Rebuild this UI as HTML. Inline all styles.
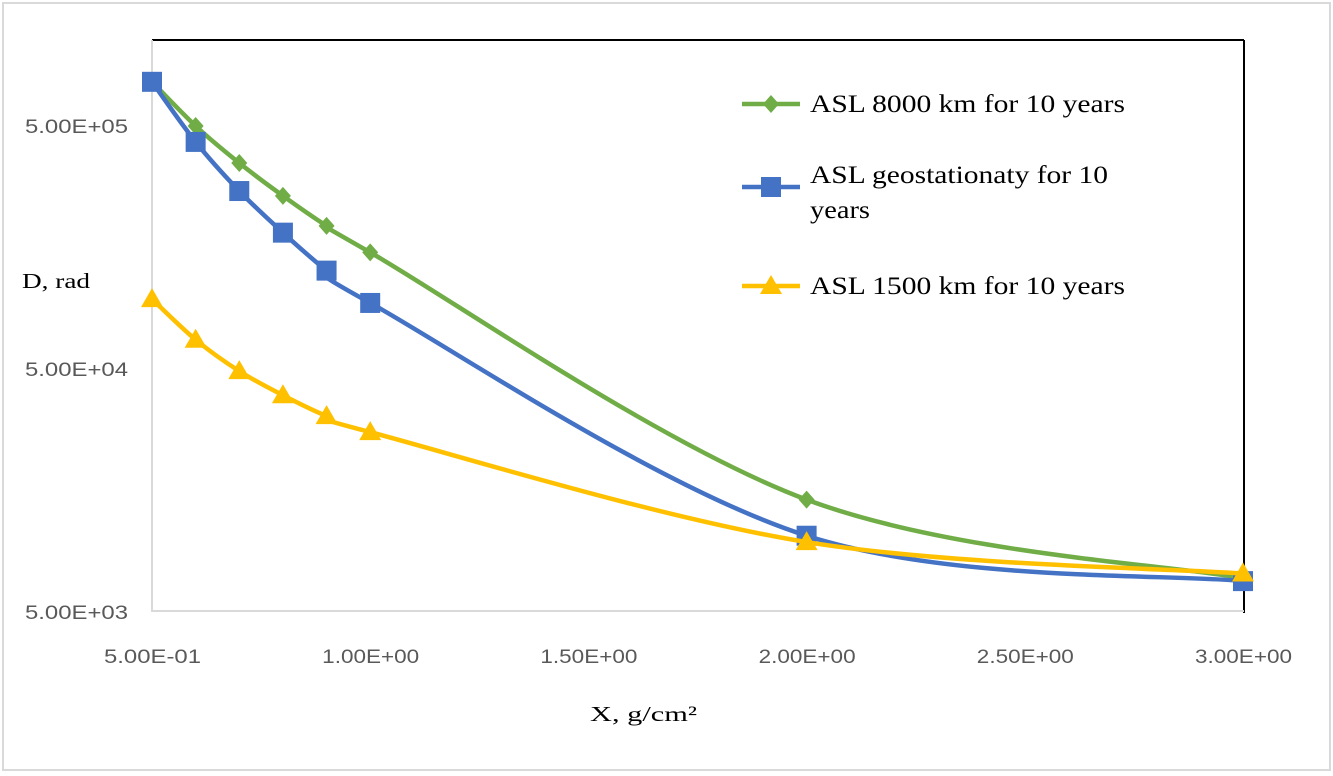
<!DOCTYPE html>
<html><head><meta charset="utf-8"><style>
body{margin:0;background:#fff;}
svg{display:block;}
.tick{font-family:"Liberation Sans",sans-serif;font-size:19px;fill:#595959;}
.serif{font-family:"Liberation Serif",serif;fill:#000;}
</style></head><body>
<svg id="chart" width="1333" height="776">
<rect x="3" y="3" width="1327" height="767" fill="#fff" stroke="#d9d9d9" stroke-width="2"/>
<line x1="152" y1="40" x2="1244" y2="40" stroke="#000" stroke-width="2"/>
<line x1="1244" y1="40" x2="1244" y2="613" stroke="#000" stroke-width="2"/>
<line x1="152" y1="40" x2="152" y2="612" stroke="#d9d9d9" stroke-width="2"/>
<line x1="152" y1="611" x2="1244" y2="611" stroke="#d9d9d9" stroke-width="2"/>
<g id="ticks"></g>
<g id="series"></g>
<text class="serif" x="22" y="288" font-size="21" textLength="68" lengthAdjust="spacingAndGlyphs">D, rad</text>
<text class="serif" x="590" y="721" font-size="21" textLength="107" lengthAdjust="spacingAndGlyphs">X, g/cm²</text>
<g id="legend"></g>
</svg>
<script>
const xValues=[0.5,0.6,0.7,0.8,0.9,1.0,2.0,3.0];
const green=[7.6e5,5.0e5,3.52e5,2.58e5,1.94e5,1.51e5,1.45e4,6.9e3];
const blue=[7.6e5,4.3e5,2.7e5,1.82e5,1.27e5,9.35e4,1.03e4,6.7e3];
const yellow=[9.7e4,6.6e4,4.9e4,3.9e4,3.2e4,2.75e4,9.7e3,7.2e3];
const xTicks=[0.5,1.0,1.5,2.0,2.5,3.0];
const xTickLabels=["5.00E-01","1.00E+00","1.50E+00","2.00E+00","2.50E+00","3.00E+00"];
const yTicks=[5e5,5e4,5e3];
const yTickLabels=["5.00E+05","5.00E+04","5.00E+03"];
const seriesNames=["ASL 8000 km for 10 years","ASL geostationaty for 10|years","ASL 1500 km for 10 years"];

const NS="http://www.w3.org/2000/svg";
const sx=v=>152+(v-0.5)*436.4;
const sy=v=>612-243*Math.log10(v/5000);
function mk(tag,attrs,parent){const e=document.createElementNS(NS,tag);for(const k in attrs)e.setAttribute(k,attrs[k]);parent.appendChild(e);return e;}
const tg=document.getElementById('ticks');
xTicks.forEach((t,i)=>{const e=mk('text',{x:sx(t)-48,y:663,'class':'tick',textLength:97,lengthAdjust:'spacingAndGlyphs'},tg);e.textContent=xTickLabels[i];

});
yTicks.forEach((t,i)=>{const e=mk('text',{x:25,y:sy(t)+7,'class':'tick',textLength:103,lengthAdjust:'spacingAndGlyphs'},tg);e.textContent=yTickLabels[i];

});
function smooth(pts){let d=`M${pts[0][0]},${pts[0][1]}`;for(let i=0;i<pts.length-1;i++){const p0=pts[Math.max(0,i-1)],p1=pts[i],p2=pts[i+1],p3=pts[Math.min(pts.length-1,i+2)];const c1=[p1[0]+(p2[0]-p0[0])/6,p1[1]+(p2[1]-p0[1])/6],c2=[p2[0]-(p3[0]-p1[0])/6,p2[1]-(p3[1]-p1[1])/6];d+=` C${c1[0]},${c1[1]} ${c2[0]},${c2[1]} ${p2[0]},${p2[1]}`;}return d;}
function marker(type,x,y,color,g){
 if(type==='diamond')return mk('path',{d:`M${x},${y-9} L${x+8},${y} L${x},${y+9} L${x-8},${y}Z`,fill:color},g);
 if(type==='square')return mk('rect',{x:x-10,y:y-10,width:20,height:20,fill:color},g);
 return mk('path',{d:`M${x},${y-11} L${x+11},${y+8} L${x-11},${y+8}Z`,fill:color},g);}
const sg=document.getElementById('series');
const defs=[[green,'#70ad47','diamond','series-8000km'],[blue,'#4472c4','square','series-geostationary'],[yellow,'#ffc000','triangle','series-1500km']];
defs.forEach(([vals,color,mtype,name])=>{
 const g=mk('g',{},sg);
 
 
 const pts=xValues.map((x,i)=>[sx(x),sy(vals[i])]);
 const p=mk('path',{d:smooth(pts),fill:'none',stroke:color,'stroke-width':4.5},g);
 
 
 pts.forEach(pt=>{const m=marker(mtype,pt[0],pt[1],color,g);
 
 });
});
const lg=document.getElementById('legend');
const ly=[104,187,286];
const lw=[[315],[298,60],[315]];
defs.forEach(([vals,color,mtype,name],i)=>{
 const g=mk('g',{},lg);
 
 
 const y=ly[i];
 mk('line',{x1:742,y1:y,x2:800,y2:y,stroke:color,'stroke-width':4.5},g);
 marker(mtype,771,y,color,g);
 const lines=seriesNames[i].split('|');
 lines.forEach((s,j)=>{const t=mk('text',{x:810,y:(lines.length>1?y-4:y+8)+j*35,'class':'serif','font-size':'25',textLength:lw[i][j],lengthAdjust:'spacingAndGlyphs'},g);t.textContent=s;});
});
</script>
</body></html>
